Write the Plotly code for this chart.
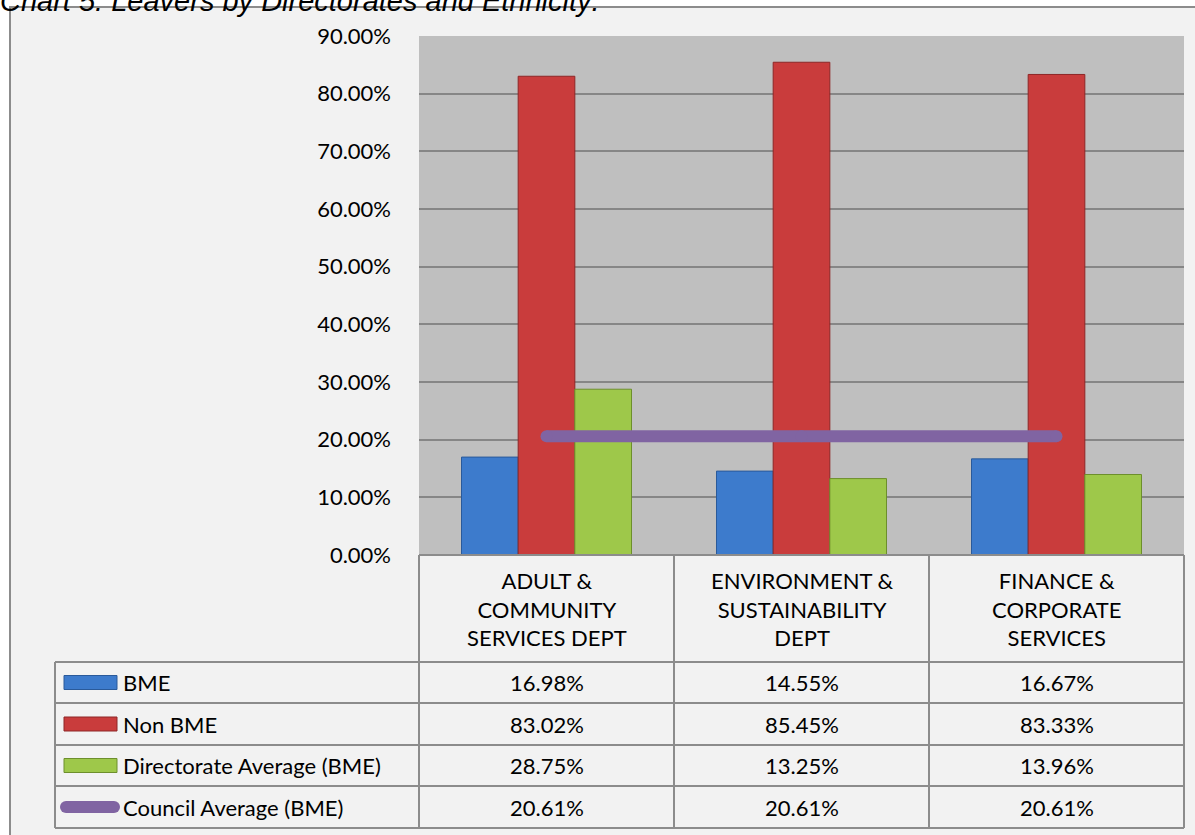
import plotly.graph_objects as go

categories = ["ADULT &<br>COMMUNITY<br>SERVICES DEPT",
              "ENVIRONMENT &<br>SUSTAINABILITY<br>DEPT",
              "FINANCE &<br>CORPORATE<br>SERVICES"]
series_names = ["BME", "Non BME", "Directorate Average (BME)", "Council Average (BME)"]
bme = [16.98, 14.55, 16.67]
non_bme = [83.02, 85.45, 83.33]
dir_avg = [28.75, 13.25, 13.96]
council_avg = [20.61, 20.61, 20.61]
y_ticks = [0, 10, 20, 30, 40, 50, 60, 70, 80, 90]
title_text = "Chart 5: Leavers by Directorates and Ethnicity:"

W, H = 1195, 835
L, R, T, B = 419, 1184, 36, 555
PW, PH = R - L, B - T


def px(X):
    return (X - L) / PW


def py(Y):
    return (B - Y) / PH


FONT = "Lato, Carlito, Calibri, sans-serif"
FS = 22
colors = ["#3d7bcc", "#c93c3c", "#9ec84a", "#8064a2"]
edges = ["#2a5a9a", "#8e2626", "#6d8f2c", "#8064a2"]

fig = go.Figure()
for name, vals, c, e in zip(series_names[:3], [bme, non_bme, dir_avg], colors, edges):
    fig.add_trace(go.Bar(x=categories, y=[v / 100 for v in vals], name=name,
                         marker=dict(color=c, line=dict(color=e, width=1))))
fig.add_trace(go.Scatter(x=categories, y=[v / 100 for v in council_avg],
                         name=series_names[3], mode="lines+markers",
                         line=dict(color=colors[3], width=12),
                         marker=dict(color=colors[3], size=12)))

shapes = []
# outer chart box
shapes.append(dict(type="rect", xref="paper", yref="paper", layer="below",
                   x0=px(10), x1=px(1205), y0=py(7), y1=py(850),
                   fillcolor="#f2f2f2", line=dict(color="#8c8c8c", width=2)))
# plot area
shapes.append(dict(type="rect", xref="paper", yref="paper", layer="below",
                   x0=0, x1=1, y0=0, y1=1, fillcolor="#bfbfbf", line=dict(width=0)))

LC = "#8c8c8c"
rows_y = [662, 703, 745, 786, 828]
shapes.append(dict(type="line", xref="paper", yref="paper", x0=px(419), x1=px(1184),
                   y0=py(555), y1=py(555), line=dict(color=LC, width=2)))
for yy in rows_y:
    shapes.append(dict(type="line", xref="paper", yref="paper", x0=px(55), x1=px(1184),
                       y0=py(yy), y1=py(yy), line=dict(color=LC, width=2)))
shapes.append(dict(type="line", xref="paper", yref="paper", x0=px(55), x1=px(55),
                   y0=py(662), y1=py(828), line=dict(color=LC, width=2)))
for xx in [419, 674, 929, 1184]:
    shapes.append(dict(type="line", xref="paper", yref="paper", x0=px(xx), x1=px(xx),
                       y0=py(555), y1=py(828), line=dict(color=LC, width=2)))

row_centers = [(rows_y[i] + rows_y[i + 1]) / 2 for i in range(4)]
# legend keys
for i in range(3):
    yc = row_centers[i]
    shapes.append(dict(type="rect", xref="paper", yref="paper",
                       x0=px(64), x1=px(117), y0=py(yc - 7), y1=py(yc + 7),
                       fillcolor=colors[i], line=dict(color=edges[i], width=1)))
yc = row_centers[3]
shapes.append(dict(type="rect", xref="paper", yref="paper",
                   x0=px(66), x1=px(114), y0=py(yc - 6), y1=py(yc + 6),
                   fillcolor=colors[3], line=dict(width=0)))
for cx in (66, 114):
    shapes.append(dict(type="circle", xref="paper", yref="paper",
                       x0=px(cx - 6), x1=px(cx + 6), y0=py(yc - 6), y1=py(yc + 6),
                       fillcolor=colors[3], line=dict(width=0)))

annotations = []
annotations.append(dict(text="<i>" + title_text + "</i>", xref="paper", yref="paper",
                        x=px(-2), y=py(19), xanchor="left", yanchor="bottom",
                        showarrow=False,
                        font=dict(family="Liberation Sans, Arial", size=29, color="#000")))
for cat in categories:
    annotations.append(dict(text=cat, xref="x", yref="paper", x=cat, y=py(608.5),
                            xanchor="center", yanchor="middle", showarrow=False,
                            font=dict(family=FONT, size=FS, color="#000")))
for i, vals in enumerate([bme, non_bme, dir_avg, council_avg]):
    annotations.append(dict(text=series_names[i], xref="paper", yref="paper",
                            x=px(121), y=py(row_centers[i]), xanchor="left",
                            yanchor="middle", showarrow=False,
                            font=dict(family=FONT, size=FS, color="#000")))
    for cat, v in zip(categories, vals):
        annotations.append(dict(text=f"{v:.2f}%", xref="x", yref="paper", x=cat,
                                y=py(row_centers[i]), xanchor="center", yanchor="middle",
                                showarrow=False,
                                font=dict(family=FONT, size=FS, color="#000")))

fig.update_layout(
    width=W, height=H,
    margin=dict(l=L, r=W - R, t=T, b=H - B, pad=0),
    paper_bgcolor="#ffffff", plot_bgcolor="rgba(0,0,0,0)",
    barmode="group", bargap=1 / 3, bargroupgap=0,
    showlegend=False,
    shapes=shapes, annotations=annotations,
    xaxis=dict(showticklabels=False, showgrid=False, zeroline=False, showline=False,
               ticks=""),
    yaxis=dict(range=[0, 0.9], tickvals=[v / 100 for v in y_ticks], tickformat=".2%",
               showgrid=True, gridcolor="#868686", gridwidth=2, zeroline=False,
               showline=False, ticks="", ticklabelstandoff=27,
               tickfont=dict(family=FONT, size=FS, color="#000")),
    font=dict(family=FONT, size=FS, color="#000"),
)

fig.write_html("out.html", config={"displayModeBar": False},
               post_script="document.body.style.margin='0';document.body.style.overflow='hidden';")
